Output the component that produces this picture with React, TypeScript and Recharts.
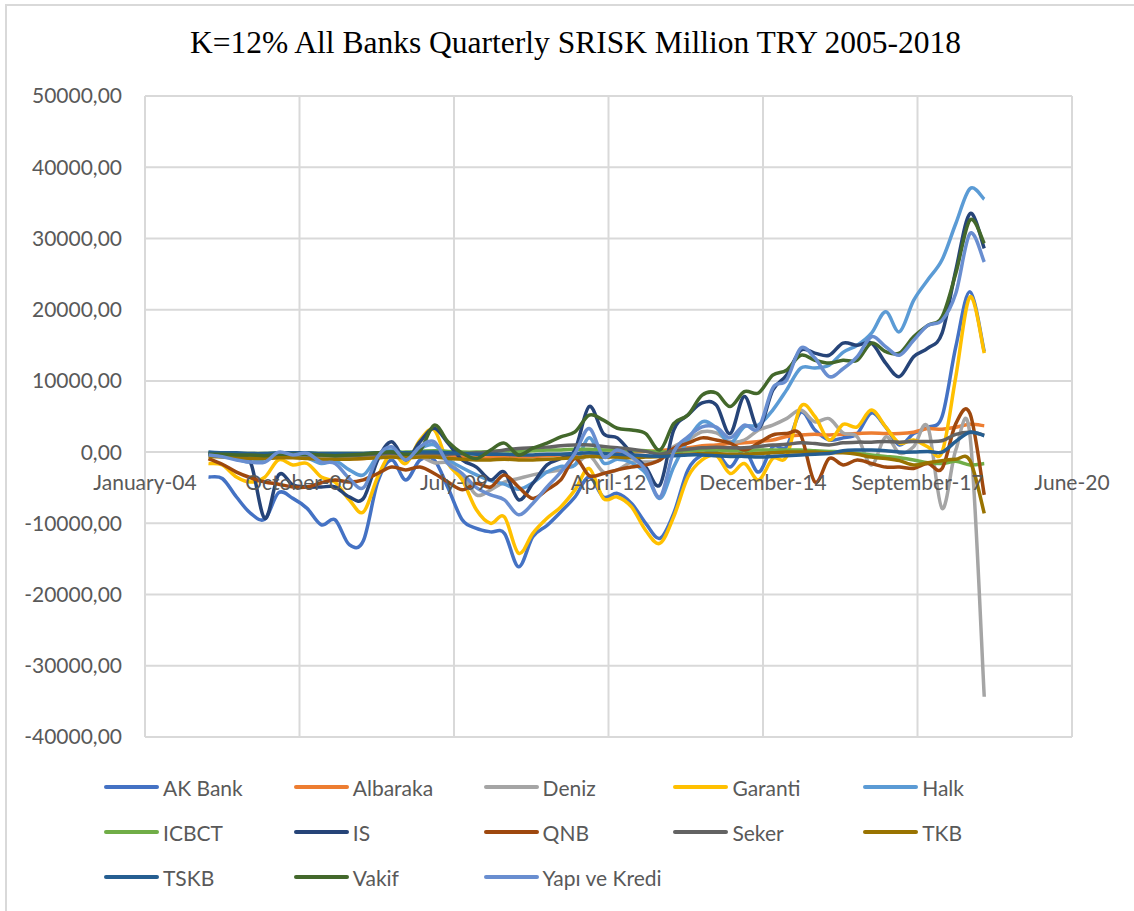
import { LineChart, Line, XAxis, YAxis, CartesianGrid } from 'recharts';

// quarterly observations 2005Q1 .. 2018Q4, plotted mid-quarter on a day axis
const years = [2005, 2006, 2007, 2008, 2009, 2010, 2011, 2012, 2013, 2014, 2015, 2016, 2017, 2018];
const quarterMonths = [1, 4, 7, 10]; // Feb, May, Aug, Nov (0-based)
const axisStart = Date.UTC(2004, 0, 1);

const xTicks = [0, 1000, 2000, 3000, 4000, 5000, 6000];
const xTickLabels = ['January-04', 'October-06', 'July-09', 'April-12', 'December-14', 'September-17', 'June-20'];
const yTicks = [-40000, -30000, -20000, -10000, 0, 10000, 20000, 30000, 40000, 50000];

const akBank = [-3500, -3700, -6300, -8600, -9400, -5700, -6500, -7900, -10200, -9500, -13000, -12400, -4200, -1100, -3900, -1100, -1100, -5000, -9500, -10700, -11200, -11400, -16100, -11900, -10300, -8400, -6300, -3500, -6300, -5800, -7200, -10000, -12100, -8600, -2500, -400, 0, -2100, 300, -2800, 750, 750, 5600, 3100, 1700, 2000, 2600, 5500, 3500, 1000, 2600, 3500, 5000, 14800, 22500, 14100];
const albaraka = [-400, -500, -600, -700, -700, -600, -600, -700, -800, -800, -900, -900, -700, -600, -600, -500, -500, -600, -700, -800, -800, -700, -700, -600, -500, -400, -300, -200, -200, -100, 0, 100, 200, 400, 600, 900, 1000, 1200, 1300, 1500, 1700, 2200, 2400, 2500, 2400, 2500, 2600, 2700, 2600, 2600, 2800, 3300, 3200, 3500, 3900, 3700];
const deniz = [-300, -400, -500, -600, -500, -400, -500, -500, -600, -600, -700, -600, -400, -300, -400, -600, -1500, -1500, -3200, -6000, -5300, -4200, -3700, -3200, -2800, -2500, -1800, -500, -2800, -2500, -1400, -1400, -1100, 750, 1700, 2850, 2700, 1450, 1700, 3100, 3800, 4700, 5900, 4250, 4700, 2700, 2150, -1800, 2150, -150, 750, 3550, -7900, 300, 2300, -34350];
const garanti = [-1600, -1800, -3500, -4200, -3500, -1100, -1800, -1600, -3500, -4200, -6700, -8400, -3500, -150, -1600, 1700, 3100, -1600, -3900, -8100, -10000, -9100, -14200, -11400, -9300, -7700, -5300, -2300, -6500, -6300, -7700, -11000, -12800, -9100, -3500, -1100, -500, -3000, -1600, -3900, -900, -650, 6400, 5000, 1700, 3900, 3550, 5900, 3550, 1260, 1700, 750, 0, 10600, 21800, 13900];
const halk = [-300, -500, -1000, -1400, -900, -200, -500, -800, -1600, -1200, -2500, -3200, -600, 300, -800, 500, 1000, -1000, -2200, -3200, -4000, -4500, -5200, -4300, -2800, -2000, -1800, 2000, -1500, -1000, -1500, -3000, -6500, -2100, 1700, 4250, 3400, 1260, 3550, 3800, 5900, 8700, 11800, 11800, 12200, 14000, 15000, 16700, 19700, 16900, 21300, 24200, 27000, 32100, 37000, 35500];
const icbct = [-100, -100, -200, -200, -200, -100, -100, -100, -200, -200, -200, -200, -100, 0, 0, 100, 200, 100, 0, 0, 100, 200, 100, 200, 300, 300, 400, 400, 300, 300, 200, 200, 0, 100, 200, 300, 300, 200, 200, 300, 300, 300, 300, 200, 100, 0, -200, -400, -600, -800, -1100, -1500, -1600, -1300, -1800, -1600];
const is = [-200, -300, -500, -1500, -9300, -3200, -4600, -4900, -4900, -4900, -6300, -6500, -1100, 1450, -1100, 1450, 3350, 1260, -1100, -2100, -3900, -2800, -6700, -4400, -1800, -900, 300, 6400, 2600, 2000, -150, -2100, -4600, 3100, 5200, 6900, 6600, 2600, 7800, 3350, 8700, 10800, 14300, 13900, 13600, 15300, 15000, 15300, 12500, 10600, 13400, 14600, 16700, 25550, 33500, 28600];
const qnb = [-900, -1700, -2800, -3600, -4200, -4500, -4900, -4900, -4300, -3900, -4200, -3900, -3000, -2100, -2500, -2100, -3000, -4200, -5300, -4400, -4900, -3200, -4900, -6500, -5300, -3900, -900, -3300, -3000, -2500, -2100, -1800, -1100, 550, 1260, 2000, 1700, 1260, 300, 1260, 2400, 2600, 2400, -4200, -900, -1800, -1100, -1600, -2100, -2100, -2300, -1600, -2300, 4000, 5400, -6000];
const seker = [-200, -300, -300, -400, -400, -300, -300, -400, -400, -500, -500, -400, -300, -200, -300, -200, -200, -300, -200, -100, 0, 300, 500, 600, 700, 900, 1000, 1000, 800, 600, 400, 100, -300, 200, 400, 600, 700, 600, 600, 800, 1000, 1100, 1300, 1200, 1000, 1300, 1400, 1400, 1500, 1400, 1500, 1500, 1600, 2500, 2800, 2400];
const tkb = [-600, -700, -800, -900, -900, -800, -800, -900, -1000, -1000, -1000, -900, -800, -700, -800, -700, -700, -900, -1000, -1100, -1100, -1000, -1100, -1100, -1000, -900, -800, -600, -700, -700, -800, -700, -600, -400, -300, -200, -200, -300, -300, -200, -100, 0, 0, 0, -100, -100, -300, -700, -900, -1200, -1800, -1500, -1200, -1000, -1200, -8600];
const tskb = [0, -100, -100, -200, -200, -100, -100, -100, -200, -200, -200, -200, -100, 0, -100, 0, 0, -100, -200, -300, -300, -300, -400, -400, -300, -300, -200, -100, -200, -300, -400, -500, -600, -500, -400, -400, -500, -600, -600, -700, -600, -500, -400, -300, -200, 200, 300, 300, 200, 0, 0, 100, 0, 1500, 2800, 2300];
const vakif = [-300, -300, -400, -400, -500, -300, -300, -300, -400, -500, -400, -300, -100, 0, -300, 200, 3800, 1450, -150, -900, 300, 1260, -400, 550, 1260, 2150, 2850, 5200, 4500, 3350, 3100, 2600, 300, 4000, 5200, 8000, 8300, 6400, 8500, 8300, 10800, 11500, 13600, 12900, 12500, 12900, 12900, 15300, 14100, 13900, 16200, 17800, 19000, 25100, 32600, 29300];
const yapiKredi = [-400, -650, -1100, -1400, -1400, 0, -400, -150, -1400, -1600, -3700, -5000, -650, 750, -1100, 750, 1450, -1600, -3000, -5000, -6000, -6700, -8800, -7200, -4900, -2800, -150, 3300, -650, 300, -650, -2500, -6300, 0, 2150, 3550, 3500, 2000, 3800, 3350, 9000, 10100, 14600, 13200, 10600, 11700, 13400, 16200, 14800, 13600, 15700, 17800, 18500, 22300, 30700, 26700];

const series = [
  { key: 'akBank', name: 'AK Bank', color: '#4472C4', values: akBank },
  { key: 'albaraka', name: 'Albaraka', color: '#ED7D31', values: albaraka },
  { key: 'deniz', name: 'Deniz', color: '#A5A5A5', values: deniz },
  { key: 'garanti', name: 'Garanti', color: '#FFC000', values: garanti },
  { key: 'halk', name: 'Halk', color: '#5B9BD5', values: halk },
  { key: 'icbct', name: 'ICBCT', color: '#70AD47', values: icbct },
  { key: 'is', name: 'IS', color: '#264478', values: is },
  { key: 'qnb', name: 'QNB', color: '#9E480E', values: qnb },
  { key: 'seker', name: 'Seker', color: '#636363', values: seker },
  { key: 'tkb', name: 'TKB', color: '#997300', values: tkb },
  { key: 'tskb', name: 'TSKB', color: '#255E91', values: tskb },
  { key: 'vakif', name: 'Vakif', color: '#43682B', values: vakif },
  { key: 'yapiKredi', name: 'Yapı ve Kredi', color: '#698ED0', values: yapiKredi },
];

const data = years.flatMap((y, yi) =>
  quarterMonths.map((m, qi) => {
    const i = yi * 4 + qi;
    const row: any = { t: (Date.UTC(y, m, 15) - axisStart) / 86400000 };
    series.forEach(s => { row[s.key] = s.values[i]; });
    return row;
  })
);

// layout of the plot area, in page pixels
const W = 1134;
const H = 911;
const PLOT_TOP = 96;
const PLOT_BOTTOM = 737;
const PLOT_LEFT = 145;
const PLOT_RIGHT = 1072;
const Y_MIN = -40000;
const Y_MAX = 50000;
const ZERO_Y = PLOT_TOP + (Y_MAX / (Y_MAX - Y_MIN)) * (PLOT_BOTTOM - PLOT_TOP);

const FONT = 'Lato, "Open Sans", sans-serif';
const GREY = '#595959';

// Excel-like smoothed line (Catmull-Rom through every point)
function smoothCurve(context: any) {
  let pts: number[][] = [];
  return {
    areaStart() {},
    areaEnd() {},
    lineStart() { pts = []; },
    point(x: number, y: number) { pts.push([+x, +y]); },
    lineEnd() {
      const n = pts.length;
      if (!n) return;
      context.moveTo(pts[0][0], pts[0][1]);
      for (let i = 0; i < n - 1; i++) {
        const p0 = pts[i > 0 ? i - 1 : i];
        const p1 = pts[i];
        const p2 = pts[i + 1];
        const p3 = pts[i + 2 < n ? i + 2 : i + 1];
        context.bezierCurveTo(
          p1[0] + (p2[0] - p0[0]) / 6, p1[1] + (p2[1] - p0[1]) / 6,
          p2[0] - (p3[0] - p1[0]) / 6, p2[1] - (p3[1] - p1[1]) / 6,
          p2[0], p2[1]
        );
      }
    },
  };
}

const XTick = (props: any) => {
  const { x, payload } = props;
  const label = xTickLabels[xTicks.indexOf(payload.value)];
  return (
    <text x={x} y={ZERO_Y + 38} textAnchor="middle" fill={GREY} fontSize={21} fontFamily={FONT}>
      {label}
    </text>
  );
};

const fmt = (v: number) => v.toFixed(2).replace('.', ',');

const LegendBox = () => (
  <div style={{ position: 'absolute', left: 104, top: 773, width: 960 }}>
    {series.map((s, i) => (
      <div
        key={s.key}
        style={{
          position: 'absolute',
          left: (i % 5) * 189.8,
          top: Math.floor(i / 5) * 45,
          display: 'flex',
          alignItems: 'center',
          height: 28,
          whiteSpace: 'nowrap',
        }}
      >
        <svg width={56} height={8} style={{ marginRight: 3 }}>
          <line x1={2} y1={4} x2={53} y2={4} stroke={s.color} strokeWidth={4} strokeLinecap="round" />
        </svg>
        <span style={{ fontFamily: FONT, fontSize: 21, color: GREY }}>{s.name}</span>
      </div>
    ))}
  </div>
);

export default function App() {
  return (
    <div style={{ position: 'fixed', left: 0, top: 0, width: W, height: H, overflow: 'hidden', background: '#fff' }}>
      <div style={{ position: 'absolute', left: 5, top: 4, width: W + 20, height: H + 20, border: '2px solid #d9d9d9' }} />
      <div
        style={{
          position: 'absolute',
          left: 0,
          top: 25,
          width: 1151,
          textAlign: 'center',
          fontFamily: '"Liberation Serif", "Times New Roman", serif',
          fontSize: 31.5,
          color: '#000',
        }}
      >
        K=12% All Banks Quarterly SRISK Million TRY 2005-2018
      </div>
      <div style={{ position: 'absolute', left: 0, top: 0 }}>
        <LineChart
          width={W}
          height={H}
          data={data}
          margin={{ top: PLOT_TOP, right: W - PLOT_RIGHT, bottom: H - PLOT_BOTTOM - 30, left: 5 }}
        >
          <CartesianGrid stroke="#d9d9d9" strokeWidth={2} />
          <XAxis
            type="number"
            dataKey="t"
            domain={[0, 6000]}
            ticks={xTicks}
            interval={0}
            height={30}
            axisLine={false}
            tickLine={false}
            tick={<XTick />}
          />
          <YAxis
            type="number"
            domain={[Y_MIN, Y_MAX]}
            ticks={yTicks}
            interval={0}
            width={PLOT_LEFT - 5}
            axisLine={false}
            tickLine={false}
            tickMargin={17}
            tickFormatter={fmt}
            tick={{ fill: GREY, fontSize: 21, fontFamily: FONT }}
          />
          {series.map(s => (
            <Line
              key={s.key}
              dataKey={s.key}
              name={s.name}
              type={smoothCurve as any}
              stroke={s.color}
              strokeWidth={3.5}
              dot={false}
              activeDot={false}
              isAnimationActive={false}
            />
          ))}
        </LineChart>
      </div>
      <LegendBox />
    </div>
  );
}
